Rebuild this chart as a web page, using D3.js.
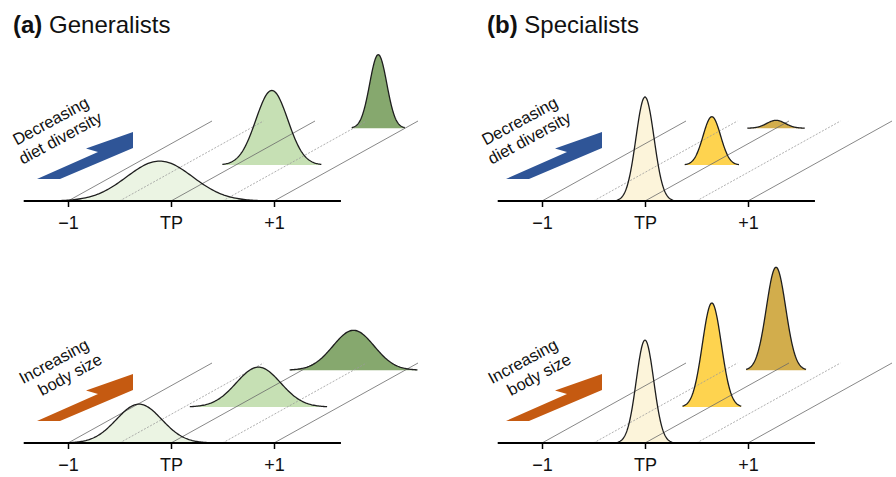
<!DOCTYPE html>
<html>
<head>
<meta charset="utf-8">
<script src="https://cdn.jsdelivr.net/npm/d3@7"></script>
<style>
  body { margin: 0; background: #fff; }
  svg { display: block; font-family: "Liberation Sans", Arial, sans-serif; }
</style>
</head>
<body>
<svg id="chart" width="896" height="477"></svg>
<script>
// tick marks on the trophic position axis
const tickValues = [-1, 0, 1];
const tickLabels = ['\u22121', 'TP', '+1'];
// solid and dotted guide lines running back in depth
const solidGuides = [-1, 0, 1];
const dottedGuides = [-0.5, 0.5];
// depth of each curve (0 = front)
const depthLevels = [0, 0.45, 0.91];

// generalists, diet diversity
const genDietCenters = [-0.11, 0.35, 0.74];
const genDietSigmas = [0.32, 0.155, 0.083];
const genDietHeights = [0.38, 0.71, 0.70];
// generalists, body size
const genSizeCenters = [-0.31, 0.22, 0.5];
const genSizeSigmas = [0.22, 0.215, 0.2];
const genSizeHeights = [0.37, 0.38, 0.38];
// specialists, diet diversity
const specDietCenters = [0, 0.02, 0];
const specDietSigmas = [0.088, 0.085, 0.09];
const specDietHeights = [0.99, 0.46, 0.075];
// specialists, body size
const specSizeCenters = [0, 0.02, 0];
const specSizeSigmas = [0.085, 0.092, 0.094];
const specSizeHeights = [0.98, 0.99, 0.98];

const genColors = ['#ebf4e3', '#c6e0b4', '#86a86e'];
const specColors = ['#fcf4da', '#fed34f', '#d2ad4c'];

const svg = d3.select('#chart');

let x = d3.scaleLinear().domain([-1, 1]).range([68, 274]);
let depthX = d3.scaleLinear().domain([0, 1]).range([0, 144]);
let depthY = d3.scaleLinear().domain([0, 1]).range([0, -80]);
let hScale = d3.scaleLinear().domain([0, 1]).range([0, 105]);

let panels = [
    {dx: 0, annX: 0, y: 201, centers: genDietCenters, sigmas: genDietSigmas, heights: genDietHeights,
     colors: genColors, label: ['Decreasing', 'diet diversity'], arrow: '#2f5597'},
    {dx: 474, annX: 469, y: 201, centers: specDietCenters, sigmas: specDietSigmas, heights: specDietHeights,
     colors: specColors, label: ['Decreasing', 'diet diversity'], arrow: '#2f5597'},
    {dx: 0, annX: 0, y: 443, centers: genSizeCenters, sigmas: genSizeSigmas, heights: genSizeHeights,
     colors: genColors, label: ['Increasing', 'body size'], arrow: '#c55a11'},
    {dx: 474, annX: 469, y: 443, centers: specSizeCenters, sigmas: specSizeSigmas, heights: specSizeHeights,
     colors: specColors, label: ['Increasing', 'body size'], arrow: '#c55a11'}
];

// titles
[['(a)', 'Generalists', 13], ['(b)', 'Specialists', 487]].forEach(t => {
    let txt = svg.append('text').attr('x', t[2]).attr('y', 33).attr('font-size', 24).attr('fill', '#111');
    txt.append('tspan').attr('font-weight', 'bold').text(t[0]);
    txt.append('tspan').text('\u00a0' + t[1]);
});

// arrow outline relative to panel (tail, head, barb)
let arrowPts = [[37, 179], [60, 179], [133, 148], [133, 132], [86, 148.5], [98, 152]];

panels.forEach(p => {
    let g = svg.append('g').attr('transform', 'translate(' + p.dx + ',' + p.y + ')');
    let a = svg.append('g').attr('transform', 'translate(' + p.annX + ',' + (p.y - 201) + ')');

    a.append('path')
        .attr('d', d3.line()(arrowPts) + 'Z')
        .attr('fill', p.arrow);

    let lab = a.append('g').attr('transform', 'translate(90,106) rotate(-28.5)')
        .attr('font-size', 16.5).attr('fill', '#111').attr('text-anchor', 'end');
    lab.append('text').attr('x', 0).attr('y', 0).text(p.label[0]);
    lab.append('text').attr('x', 4.6).attr('y', 19.5).text(p.label[1]);

    let curves = depthLevels.map((d, i) => ({
        depth: d, c: p.centers[i], s: p.sigmas[i], h: p.heights[i], color: p.colors[i]
    }));

    let samples = function(cv) {
        return d3.range(-3.1, 3.1001, 0.05).map(z => ({
            x: x(cv.c + z * cv.s) + depthX(cv.depth),
            base: depthY(cv.depth),
            top: depthY(cv.depth) - hScale(cv.h * Math.exp(-z * z / 2))
        }));
    };

    let area = d3.area().x(d => d.x).y0(d => d.base).y1(d => d.top);
    let line = d3.line().x(d => d.x).y(d => d.top);

    // fills, far to near
    curves.slice().reverse().forEach(cv => {
        g.append('path').datum(samples(cv)).attr('d', area).attr('fill', cv.color);
    });

    // guide lines going back in depth
    g.selectAll('line.solid').data(solidGuides).enter().append('line')
        .attr('x1', d => x(d)).attr('y1', 0)
        .attr('x2', d => x(d) + depthX(1)).attr('y2', depthY(1))
        .attr('stroke', '#6a6a6a').attr('stroke-width', 0.8);
    g.selectAll('line.dotted').data(dottedGuides).enter().append('line')
        .attr('x1', d => x(d)).attr('y1', 0)
        .attr('x2', d => x(d) + depthX(1)).attr('y2', depthY(1))
        .attr('stroke', '#9a9a9a').attr('stroke-width', 0.8).attr('stroke-dasharray', '2,1.5');

    // curve outlines
    curves.slice().reverse().forEach(cv => {
        g.append('path').datum(samples(cv)).attr('d', line)
            .attr('fill', 'none').attr('stroke', '#1e1e1e').attr('stroke-width', 1.3);
    });

    // axis
    g.append('line').attr('x1', x(-1.43)).attr('x2', x(1.65)).attr('y1', 0).attr('y2', 0)
        .attr('stroke', '#000').attr('stroke-width', 1.8);
    let ax = g.append('g').call(d3.axisBottom(x).tickValues(tickValues)
        .tickFormat((d, i) => tickLabels[i]).tickSize(6).tickPadding(9));
    ax.select('.domain').remove();
    ax.selectAll('.tick line').attr('stroke', '#000').attr('stroke-width', 1.5);
    ax.selectAll('.tick text').attr('font-size', 18).attr('fill', '#111')
        .attr('font-family', '"Liberation Sans", Arial, sans-serif');
});
</script>
</body>
</html>
